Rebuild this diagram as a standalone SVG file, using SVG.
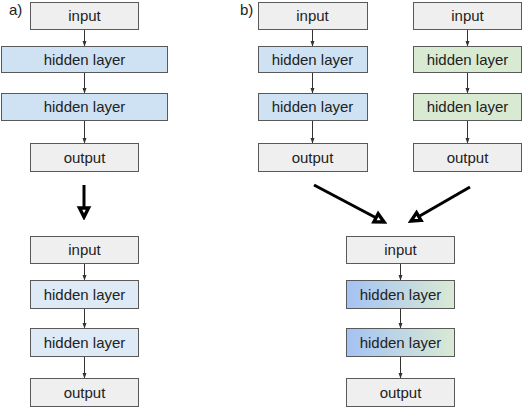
<svg xmlns="http://www.w3.org/2000/svg" width="524" height="408" viewBox="0 0 524 408">
<defs>
<style>
.box{stroke:#595959;stroke-width:1}
.io{fill:#efefef}
.hb{fill:#cfe2f3}
.hl{fill:#deebf7}
.hg{fill:#d9ead3}
.hm{fill:url(#mix)}
text{font-family:"Liberation Sans",Arial,sans-serif;font-size:15px;fill:#222;text-anchor:middle}
.lbl{text-anchor:start}
.c{stroke:#333;stroke-width:1;fill:none;marker-end:url(#sa)}
.big{stroke:#000;stroke-width:3;fill:none;marker-end:url(#ba)}
</style>
<linearGradient id="mix" x1="0" y1="0" x2="1" y2="0">
<stop offset="0" stop-color="#a4c2f4"/>
<stop offset="1" stop-color="#d9ead3"/>
</linearGradient>
<marker id="sa" markerUnits="userSpaceOnUse" markerWidth="6" markerHeight="6" viewBox="0 0 6 6" refX="6" refY="3" orient="auto">
<path d="M0,0.8 L6,3 L0,5.2 z" fill="#333"/>
</marker>
<marker id="ba" markerUnits="userSpaceOnUse" markerWidth="16" markerHeight="16" viewBox="0 0 16 16" refX="13" refY="8" orient="auto">
<path d="M4,3.5 L13,8 L4,12.5 z" fill="#fff" stroke="#000" stroke-width="3.4" stroke-linejoin="miter"/>
</marker>
</defs>
<text class="lbl" x="9" y="15">a)</text>
<text class="lbl" x="240" y="15">b)</text>
<g id="connectors">
<line class="c" x1="84.5" y1="29.5" x2="84.5" y2="46.5"/>
<line class="c" x1="84.5" y1="72.5" x2="84.5" y2="93.5"/>
<line class="c" x1="84.5" y1="120.5" x2="84.5" y2="143.5"/>
<line class="c" x1="312.5" y1="29.5" x2="312.5" y2="46.5"/>
<line class="c" x1="312.5" y1="72.5" x2="312.5" y2="93.5"/>
<line class="c" x1="312.5" y1="120.5" x2="312.5" y2="143.5"/>
<line class="c" x1="467.5" y1="29.5" x2="467.5" y2="46.5"/>
<line class="c" x1="467.5" y1="72.5" x2="467.5" y2="93.5"/>
<line class="c" x1="467.5" y1="120.5" x2="467.5" y2="143.5"/>
<line class="c" x1="84.5" y1="263.5" x2="84.5" y2="280.5"/>
<line class="c" x1="84.5" y1="308.5" x2="84.5" y2="328.5"/>
<line class="c" x1="84.5" y1="356.5" x2="84.5" y2="378.5"/>
<line class="c" x1="400.5" y1="263.5" x2="400.5" y2="280.5"/>
<line class="c" x1="400.5" y1="308.5" x2="400.5" y2="328.5"/>
<line class="c" x1="400.5" y1="356.5" x2="400.5" y2="378.5"/>
<line class="big" x1="84" y1="185" x2="84" y2="217"/>
<line class="big" x1="314" y1="185" x2="384" y2="222"/>
<line class="big" x1="470" y1="187" x2="411" y2="221"/>
</g>
<g id="a_input"><rect class="box io" x="30.5" y="2.5" width="108" height="27"/><text x="84.5" y="21">input</text></g>
<g id="a_hidden1"><rect class="box hb" x="1.5" y="46.5" width="166" height="26"/><text x="84.5" y="65">hidden layer</text></g>
<g id="a_hidden2"><rect class="box hb" x="1.5" y="93.5" width="166" height="27"/><text x="84.5" y="112">hidden layer</text></g>
<g id="a_output"><rect class="box io" x="30.5" y="143.5" width="108" height="28"/><text x="84.5" y="162.5">output</text></g>
<g id="bl_input"><rect class="box io" x="258.5" y="2.5" width="109" height="27"/><text x="312.5" y="21">input</text></g>
<g id="bl_hidden1"><rect class="box hb" x="258.5" y="46.5" width="109" height="26"/><text x="312.5" y="65">hidden layer</text></g>
<g id="bl_hidden2"><rect class="box hb" x="258.5" y="93.5" width="109" height="27"/><text x="312.5" y="112">hidden layer</text></g>
<g id="bl_output"><rect class="box io" x="258.5" y="143.5" width="109" height="28"/><text x="312.5" y="162.5">output</text></g>
<g id="br_input"><rect class="box io" x="413.5" y="2.5" width="108" height="27"/><text x="467.5" y="21">input</text></g>
<g id="br_hidden1"><rect class="box hg" x="413.5" y="46.5" width="108" height="26"/><text x="467.5" y="65">hidden layer</text></g>
<g id="br_hidden2"><rect class="box hg" x="413.5" y="93.5" width="108" height="27"/><text x="467.5" y="112">hidden layer</text></g>
<g id="br_output"><rect class="box io" x="413.5" y="143.5" width="108" height="28"/><text x="467.5" y="162.5">output</text></g>
<g id="a2_input"><rect class="box io" x="30.5" y="236.5" width="108" height="27"/><text x="84.5" y="255">input</text></g>
<g id="a2_hidden1"><rect class="box hl" x="30.5" y="280.5" width="108" height="28"/><text x="84.5" y="299.5">hidden layer</text></g>
<g id="a2_hidden2"><rect class="box hl" x="30.5" y="328.5" width="108" height="28"/><text x="84.5" y="347.5">hidden layer</text></g>
<g id="a2_output"><rect class="box io" x="30.5" y="378.5" width="108" height="28"/><text x="84.5" y="397.5">output</text></g>
<g id="b2_input"><rect class="box io" x="346.5" y="236.5" width="108" height="27"/><text x="400.5" y="255">input</text></g>
<g id="b2_hidden1"><rect class="box hm" x="346.5" y="280.5" width="108" height="28"/><text x="400.5" y="299.5">hidden layer</text></g>
<g id="b2_hidden2"><rect class="box hm" x="346.5" y="328.5" width="108" height="28"/><text x="400.5" y="347.5">hidden layer</text></g>
<g id="b2_output"><rect class="box io" x="346.5" y="378.5" width="108" height="28"/><text x="400.5" y="397.5">output</text></g>
</svg>
